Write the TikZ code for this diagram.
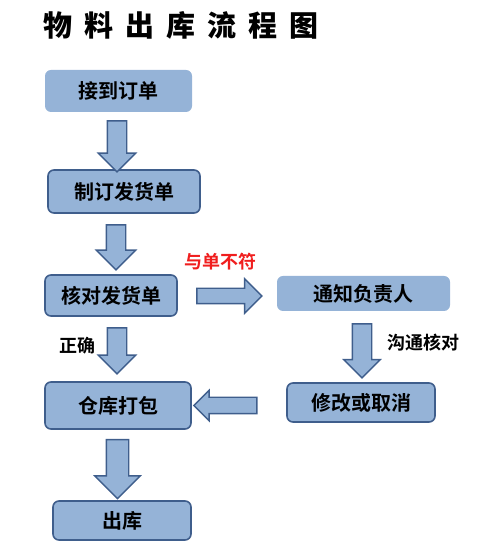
\documentclass[tikz,border=0pt]{standalone}
\usepackage{fontspec}
\setmainfont{Noto Sans CJK SC}[BoldFont={Noto Sans CJK SC Bold}]
\newfontfamily\titlefont{Noto Sans CJK SC Black}
\usetikzlibrary{shapes.arrows}
\definecolor{boxfill}{HTML}{95B3D7}
\definecolor{boxline}{HTML}{3F5E8C}
\definecolor{labred}{HTML}{F01E1E}
\tikzset{
  x=1bp, y=1bp,
  proc/.style={rounded corners=6bp, fill=boxfill, inner sep=0pt,
    font=\fontsize{20bp}{22bp}\selectfont\bfseries},
  procline/.style={proc, draw=boxline, line width=1.6bp},
  barrow/.style={single arrow, draw=boxline, fill=boxfill, line width=1.4bp,
    inner xsep=0pt, single arrow tip angle=90, anchor=center},
  lab/.style={font=\fontsize{18bp}{20bp}\selectfont\bfseries, inner sep=0pt}
}
\begin{document}
\begin{tikzpicture}
\useasboundingbox (0,0) rectangle (500,555);
% title
\node[font=\fontsize{29bp}{32bp}\selectfont\titlefont, inner sep=0pt] (title) at (181.5,530)
  {物\kern12bp 料\kern12bp 出\kern12bp 库\kern12bp 流\kern12bp 程\kern12bp 图};
% boxes
\node[proc, minimum width=147bp, minimum height=42bp] (b1) at (118.5,464) {接到订单};
\node[procline, minimum width=152bp, minimum height=43bp] (b2) at (124,363.5) {制订发货单};
\node[procline, minimum width=132bp, minimum height=41bp] (b3) at (111,259.5) {核对发货单};
\node[proc, minimum width=173bp, minimum height=35bp] (b4) at (363.5,261.5) {通知负责人};
\node[procline, minimum width=148bp, minimum height=39bp] (b5) at (361,152.5) {修改或取消};
\node[procline, minimum width=146bp, minimum height=47bp] (b6) at (118,149.5) {仓库打包};
\node[procline, minimum width=138bp, minimum height=39bp] (b7) at (122,34.5) {出库};
% block arrows
\node[barrow, rotate=-90, minimum height=51bp, inner ysep=9bp, single arrow head extend=9bp] (a1) at (117,555-141.5) {};
\node[barrow, rotate=-90, minimum height=45bp, inner ysep=9bp, single arrow head extend=10bp] (a2) at (116,555-242.5) {};
\node[barrow, minimum height=65bp, inner ysep=7bp, single arrow head extend=9.5bp] (a3) at (225.5,555-296) {};
\node[barrow, rotate=-90, minimum height=54bp, inner ysep=9bp, single arrow head extend=8.5bp] (a4) at (362,555-346) {};
\node[barrow, rotate=180, minimum height=63bp, inner ysep=7.5bp, single arrow head extend=7bp] (a5) at (229.5,555-405.5) {};
\node[barrow, rotate=-90, minimum height=46bp, inner ysep=9bp, single arrow head extend=9bp] (a6) at (117,555-346) {};
\node[barrow, rotate=-90, minimum height=59bp, inner ysep=10.5bp, single arrow head extend=11.5bp] (a7) at (117.5,555-463.5) {};
% labels
\node[lab, text=labred] (l1) at (220,293) {与单不符};
\node[lab] (l2) at (423,212) {沟通核对};
\node[lab] (l3) at (77,209) {正确};
\end{tikzpicture}
\end{document}
